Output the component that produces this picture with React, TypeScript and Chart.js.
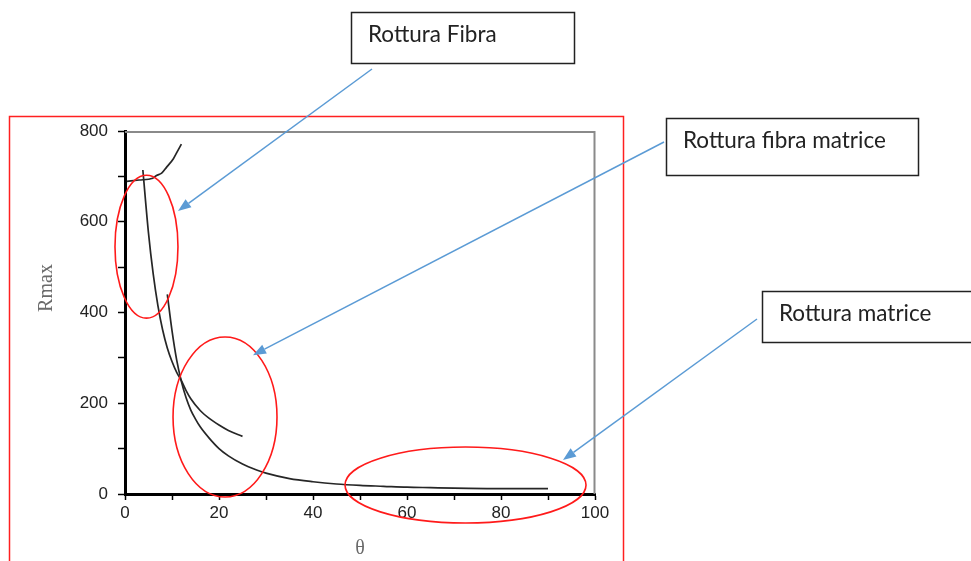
import React, { useEffect, useRef } from "react";
import { Chart, registerables } from "chart.js";

Chart.register(...registerables);

// Fibre failure branch
const thetaFiber = [0.4, 3, 5.9, 6.7, 7.8, 8.9, 10.3, 11.3, 12.0];
const rFiber = [689, 692, 696, 702, 707, 721, 739, 758, 771];

// Shear (fibre-matrix) branch
const thetaShear = [3.8, 5, 6, 7, 8, 9, 10, 11, 12, 13, 14, 16, 18, 20, 22, 25];
const rShear = [714, 575, 485, 415, 362, 322, 292, 268, 250, 228, 210, 184, 166, 152, 140, 127];

// Matrix failure branch
const thetaMatrix = [9, 10, 11, 12, 13, 14, 15, 16, 18, 20, 22, 25, 28, 30, 35, 40, 45, 50, 55, 60, 65, 70, 80, 90];
const rMatrix = [440, 360, 295, 248, 212, 185, 165, 148, 122, 100, 84, 66, 53, 46, 34, 27, 22, 19, 17, 15, 14, 13, 12, 12];

const xTicks = [0, 20, 40, 60, 80, 100];
const yTicks = [0, 200, 400, 600, 800];

const xAxisTitle = "θ";
const yAxisTitle = "Rmax";

// Annotation ellipses in data units: [cx, cy, rx, ry]
const ellipses = [
  [4.57, 545, 6.7, 157.5],
  [21.28, 169.7, 11.06, 176.3],
  [72.45, 19.8, 25.64, 83.7],
];

// Annotation labels
const labels = ["Rottura Fibra", "Rottura fibra matrice", "Rottura matrice"];
const labelBoxes = [
  [351, 12, 223, 51],
  [666, 118, 252, 57],
  [762, 291, 212, 51],
];
// arrows: start in px, tip in data units
const arrowStarts = [
  [372, 69],
  [664, 142],
  [757, 319],
];
const arrowTips = [
  [11.28, 623.7],
  [27.23, 306],
  [93.19, 74.9],
];

function pts(xs: number[], ys: number[]) {
  return xs.map((x, i) => ({ x, y: ys[i] }));
}

export default function App() {
  const ref = useRef<HTMLCanvasElement | null>(null);

  useEffect(() => {
    if (!ref.current) return;

    const decor = {
      id: "decor",
      beforeDraw(chart: any) {
        const c = chart.ctx;
        c.save();
        c.fillStyle = "#ffffff";
        c.fillRect(0, 0, chart.width, chart.height);
        c.restore();
      },
      afterDraw(chart: any) {
        const c = chart.ctx;
        const xs = chart.scales.x;
        const ys = chart.scales.y;
        const a = chart.chartArea;
        c.save();

        // plot frame top/right
        c.strokeStyle = "#8a8a8a";
        c.lineWidth = 2;
        c.beginPath();
        c.moveTo(a.left, a.top + 1);
        c.lineTo(a.right - 0.5, a.top + 1);
        c.lineTo(a.right - 0.5, a.bottom);
        c.stroke();

        // outer red rectangle
        c.strokeStyle = "#ff2020";
        c.lineWidth = 1.5;
        c.strokeRect(9.5, 116.5, 614, 460);

        // red ellipses
        c.strokeStyle = "#ff1a1a";
        c.lineWidth = 1.6;
        ellipses.forEach(([cx, cy, rx, ry]) => {
          const px = xs.getPixelForValue(cx);
          const py = ys.getPixelForValue(cy);
          const prx = Math.abs(xs.getPixelForValue(cx + rx) - px);
          const pry = Math.abs(ys.getPixelForValue(cy + ry) - py);
          c.beginPath();
          c.ellipse(px, py, prx, pry, 0, 0, Math.PI * 2);
          c.stroke();
        });

        // arrows
        c.strokeStyle = "#5b9bd5";
        c.fillStyle = "#5b9bd5";
        c.lineWidth = 1.5;
        arrowStarts.forEach(([sx, sy], i) => {
          const tx = xs.getPixelForValue(arrowTips[i][0]);
          const ty = ys.getPixelForValue(arrowTips[i][1]);
          const ang = Math.atan2(ty - sy, tx - sx);
          const len = 13;
          const half = 5;
          const bx = tx - len * Math.cos(ang);
          const by = ty - len * Math.sin(ang);
          c.beginPath();
          c.moveTo(sx, sy);
          c.lineTo(bx, by);
          c.stroke();
          c.beginPath();
          c.moveTo(tx, ty);
          c.lineTo(bx + half * Math.sin(ang), by - half * Math.cos(ang));
          c.lineTo(bx - half * Math.sin(ang), by + half * Math.cos(ang));
          c.closePath();
          c.fill();
        });

        // label boxes
        labels.forEach((t, i) => {
          const [bx, by, bw, bh] = labelBoxes[i];
          c.fillStyle = "#ffffff";
          c.fillRect(bx, by, bw, bh);
          c.strokeStyle = "#222";
          c.lineWidth = 1.5;
          c.strokeRect(bx + 0.5, by + 0.5, bw, bh);
          c.fillStyle = "#222";
          c.font = "22.5px Lato, 'Liberation Sans', sans-serif";
          c.textAlign = "left";
          c.textBaseline = "alphabetic";
          c.fillText(t, bx + 17, by + 30);
        });

        // axis titles
        c.fillStyle = "#6a6a6a";
        c.font = "20px 'Liberation Serif', 'DejaVu Serif', serif";
        c.textAlign = "center";
        c.textBaseline = "middle";
        c.save();
        c.translate(47, 288);
        c.rotate(-Math.PI / 2);
        c.fillText(yAxisTitle, 0, 0);
        c.restore();
        c.fillText(xAxisTitle, (a.left + a.right) / 2, 549);

        c.restore();
      },
    };

    const lineStyle = {
      borderColor: "#262626",
      borderWidth: 1.7,
      pointRadius: 0,
      showLine: true,
      fill: false,
      tension: 0.4,
      cubicInterpolationMode: "monotone" as const,
    };

    const chart = new Chart(ref.current, {
      type: "scatter",
      data: {
        datasets: [
          { ...lineStyle, data: pts(thetaFiber, rFiber) },
          { ...lineStyle, data: pts(thetaShear, rShear) },
          { ...lineStyle, data: pts(thetaMatrix, rMatrix) },
        ],
      },
      options: {
        animation: false,
        responsive: false,
        devicePixelRatio: 1,
        layout: { padding: { left: 0, right: 376, top: 131, bottom: 0 } },
        plugins: { legend: { display: false }, tooltip: { enabled: false } },
        scales: {
          x: {
            type: "linear",
            min: 0,
            max: 100,
            afterFit: (s: any) => {
              s.height = 67;
            },
            afterBuildTicks: (s: any) => {
              const arr: any[] = [];
              for (let v = 0; v <= 100; v += 10) arr.push({ value: v });
              s.ticks = arr;
            },
            ticks: {
              autoSkip: false,
              maxRotation: 0,
              padding: 3,
              color: "#222",
              font: { family: "'Liberation Sans', Arial, sans-serif", size: 17 },
              callback: (v: any) => (xTicks.includes(Number(v)) ? String(v) : ""),
            },
            grid: {
              drawOnChartArea: false,
              drawTicks: true,
              tickLength: 6,
              tickWidth: 1.5,
              tickColor: "#000",
            },
            border: { display: true, color: "#000", width: 3 },
          },
          y: {
            type: "linear",
            min: 0,
            max: 800,
            afterFit: (s: any) => {
              s.width = 125;
            },
            afterBuildTicks: (s: any) => {
              const arr: any[] = [];
              for (let v = 0; v <= 800; v += 100) arr.push({ value: v });
              s.ticks = arr;
            },
            ticks: {
              autoSkip: false,
              padding: 10,
              color: "#222",
              font: { family: "'Liberation Sans', Arial, sans-serif", size: 17 },
              callback: (v: any) => (yTicks.includes(Number(v)) ? String(v) : ""),
            },
            grid: {
              drawOnChartArea: false,
              drawTicks: true,
              tickLength: 7,
              tickWidth: 1.5,
              tickColor: "#000",
            },
            border: { display: true, color: "#000", width: 3 },
          },
        },
      },
      plugins: [decor],
    });

    return () => chart.destroy();
  }, []);

  return (
    <div style={{ position: "absolute", left: 0, top: 0, width: 971, height: 561, background: "#fff" }}>
      <canvas ref={ref} width={971} height={561} style={{ width: 971, height: 561, display: "block" }} />
    </div>
  );
}
